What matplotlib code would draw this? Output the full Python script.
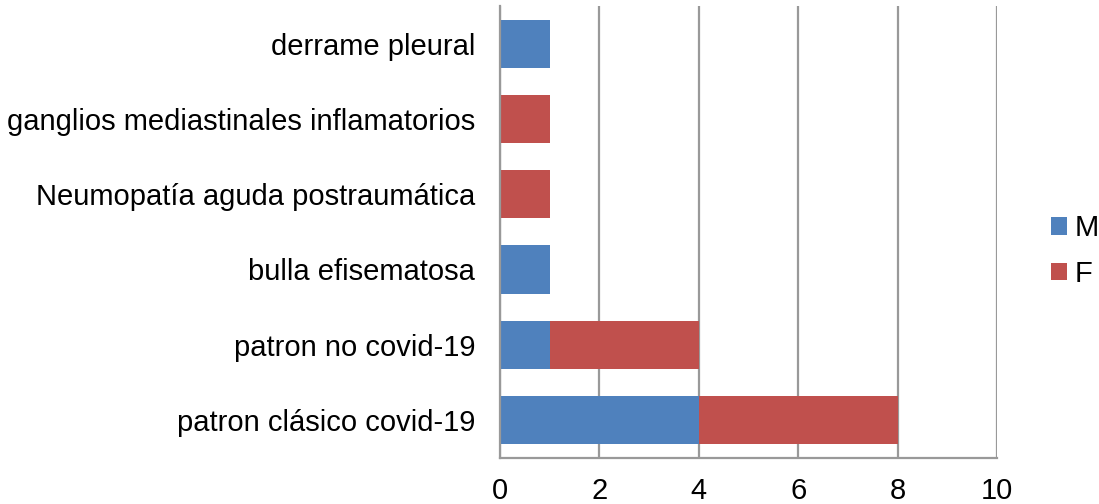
import matplotlib
matplotlib.use("Agg")
import matplotlib.pyplot as plt
import numpy as np

categories = ["patron clásico covid-19", "patron no covid-19", "bulla efisematosa",
              "Neumopatía aguda postraumática", "ganglios mediastinales inflamatorios",
              "derrame pleural"]
m_values = [4, 1, 1, 0, 0, 1]
f_values = [4, 3, 0, 1, 1, 0]
xticks = [0, 2, 4, 6, 8, 10]

plt.rcParams['font.family'] = ['Liberation Sans', 'DejaVu Sans']

fig = plt.figure(figsize=(10.99, 5.04), dpi=100)
ax = fig.add_axes([500/1099, (504-457.7)/504, 497/1099, 451.7/504])

y = np.arange(len(categories))
blue = "#4F81BD"
red = "#C0504D"
ax.barh(y, m_values, height=0.64, color=blue, label="M", zorder=3)
ax.barh(y, f_values, left=m_values, height=0.64, color=red, label="F", zorder=3)

ax.set_xlim(0, 10)
ax.set_ylim(-0.5, len(categories) - 0.5)
ax.set_xticks(xticks)
ax.set_xticklabels([str(t) for t in xticks], fontsize=21)
ax.set_yticks(y)
ax.set_yticklabels(categories, fontsize=21)
ax.tick_params(axis='x', length=0, pad=14)
ax.tick_params(axis='y', length=0, pad=18)
ax.grid(axis='x', color="#999999", linewidth=1.6, zorder=0)
for s in ["top", "right"]:
    ax.spines[s].set_visible(False)
for s in ["left", "bottom"]:
    ax.spines[s].set_color("#999999")
    ax.spines[s].set_linewidth(1.6)
    ax.spines[s].set_zorder(4)

leg = fig.legend(loc="center left", bbox_to_anchor=(1051/1099, 1 - 251/504), frameon=False,
                 fontsize=21, handlelength=0.55, handleheight=0.55, handletextpad=0.25,
                 labelspacing=0.6, borderaxespad=0, borderpad=0)

fig.savefig("out.png", dpi=100)
